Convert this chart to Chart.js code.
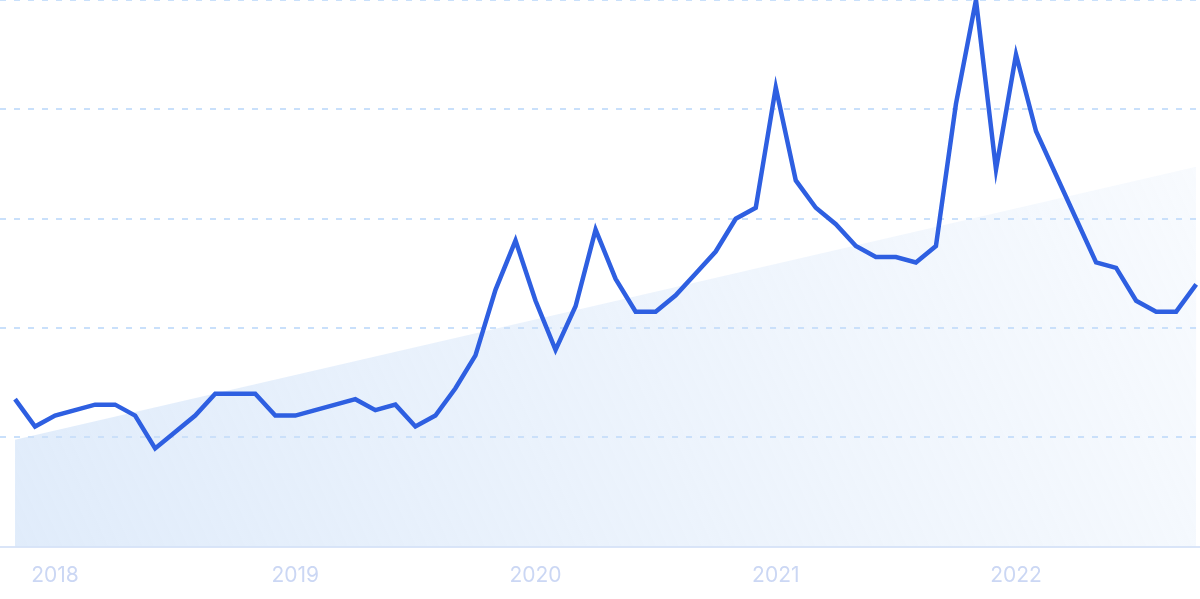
<!DOCTYPE html>
<html>
<head>
<meta charset="utf-8">
<script src="https://cdn.jsdelivr.net/npm/chart.js@4/dist/chart.umd.min.js"></script>
<style>
  html, body { margin: 0; padding: 0; background: #ffffff; }
  #wrap { width: 1200px; height: 599px; position: relative; }
</style>
</head>
<body>
<div id="wrap"><canvas id="trendChart"></canvas></div>
<script>
// monthly interest, Nov 2017 .. Oct 2022
const interest = [
  27, 22, 24, 25, 26, 26, 24, 18, 21, 24, 28, 28,
  28, 24, 24, 25, 26, 27, 25, 26, 22, 24, 29, 35,
  47, 56, 45, 36, 44, 58, 49, 43, 43, 46, 50, 54,
  60, 62, 84, 67, 62, 59, 55, 53, 53, 52, 55, 81,
  100, 69, 90, 76, 68, 60, 52, 51, 45, 43, 43, 48
];
const years = ["2018", "2019", "2020", "2021", "2022"];
const yearTickIndex = [2, 14, 26, 38, 50];
const trendIndex = [0, 59];
const trendValues = [19.6, 69.5];
const yTicks = [0, 20, 40, 60, 80, 100];

const lineBlue = "#2e5fe1";
const gridColor = "#c9e0fb";
const labelColor = "#cbd7f4";

// soft diagonal wash under the trend line, see-through so the grid shows
function trendFill(ctx) {
  const area = ctx.chart.chartArea;
  if (!area) return "rgba(205, 224, 248, 0.6)";
  const g = ctx.chart.ctx.createLinearGradient(area.left, area.bottom, area.right, area.top);
  g.addColorStop(0, "rgba(205, 224, 248, 0.62)");
  g.addColorStop(1, "rgba(205, 224, 248, 0.12)");
  return g;
}

new Chart(document.getElementById("trendChart"), {
  type: "line",
  data: {
    datasets: [
      {
        label: "Interest",
        data: interest.map((v, i) => ({ x: i, y: v })),
        borderColor: lineBlue,
        borderWidth: 4.5,
        pointRadius: 0,
        tension: 0,
        fill: false,
      },
      {
        label: "Trend",
        data: trendIndex.map((x, i) => ({ x: x, y: trendValues[i] })),
        borderWidth: 0,
        borderColor: "rgba(0,0,0,0)",
        backgroundColor: trendFill,
        pointRadius: 0,
        fill: "origin",
      },
    ],
  },
  options: {
    responsive: true,
    maintainAspectRatio: false,
    animation: false,
    layout: { padding: { left: 0, right: 0, top: 0, bottom: -5 } },
    plugins: { legend: { display: false }, tooltip: { enabled: false } },
    scales: {
      x: {
        type: "linear",
        min: -0.75,
        max: 59.19,
        grid: { display: false, drawTicks: false, tickLength: 0 },
        border: { display: true, color: "#dae5f8", width: 2 },
        afterBuildTicks: (axis) => {
          axis.ticks = yearTickIndex.map((v) => ({ value: v }));
        },
        ticks: {
          autoSkip: false,
          maxRotation: 0,
          padding: 16,
          color: labelColor,
          font: { family: "Inter, 'Noto Sans', sans-serif", size: 21 },
          callback: (value) => years[yearTickIndex.indexOf(value)] || "",
        },
      },
      y: {
        min: 0,
        max: 100,
        afterBuildTicks: (axis) => {
          axis.ticks = yTicks.map((v) => ({ value: v }));
        },
        grid: { color: gridColor, lineWidth: 2, drawTicks: false, tickLength: 0 },
        border: { display: false, dash: [6, 8] },
        ticks: { display: false },
      },
    },
  },
});
</script>
</body>
</html>
